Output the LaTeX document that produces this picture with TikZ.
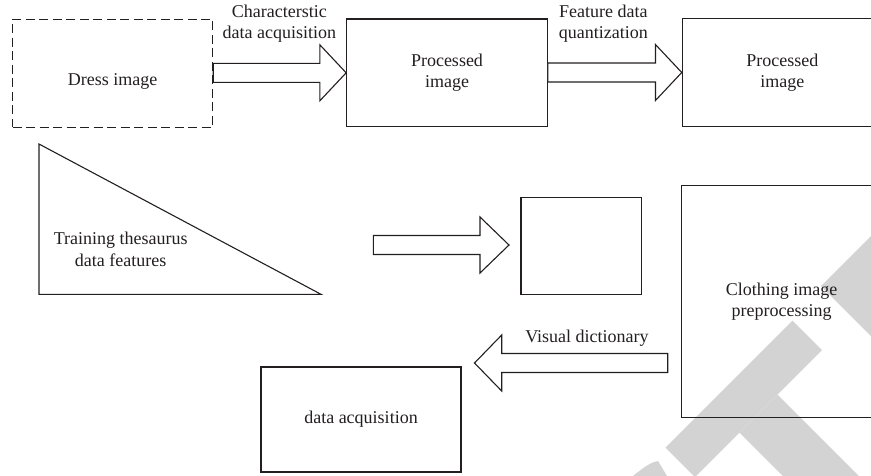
\documentclass[tikz,border=0pt]{standalone}
\usepackage{fontspec}
\setmainfont{Liberation Serif}
\usetikzlibrary{calc}
\definecolor{wm}{RGB}{211,211,211}
\definecolor{ink}{RGB}{35,31,32}
\newcommand\BlockArrow[3]{%
  \draw[blk] ($(#1 |- #2)+(0,-9.5)$) -- ($(#2)+(#3,-9.5)$) -- ($(#2)+(#3,-28)$) -- (#2)
    -- ($(#2)+(#3,28)$) -- ($(#2)+(#3,9.5)$) -- ($(#1 |- #2)+(0,9.5)$) -- cycle;}
\begin{document}
\begin{tikzpicture}[x=1pt,y=-1pt,
  txt/.style={font=\fontsize{18}{21.6}\selectfont,text=ink,align=center},
  box/.style={txt,draw=ink,line width=1.1pt,inner sep=0pt},
  lbl/.style={txt,inner sep=0pt},
  blk/.style={draw=ink,line width=1.1pt,fill=white,line join=miter},
  wmark/.style={fill=wm,draw=none}]
\useasboundingbox (0,0) rectangle (871,475);
\clip (0,0) rectangle (871,475);
% watermark
\fill[wmark] (792.5,320.5) -- (822,350) -- (695,477) -- (665.5,447.5) -- cycle;
\fill[wmark] (777.5,394.5) -- (877.5,494.5) -- (839.5,532.5) -- (739.5,432.5) -- cycle;
\fill[wmark] (821,286) -- (880,227) -- (950,290) -- (880,345) -- cycle;
\fill[wmark] (633,476) .. controls (645,466) and (652,462) .. (658,461) -- (667,476) -- cycle;
% boxes
\node[box,dash pattern=on 9pt off 4.5pt,minimum width=200pt,minimum height=108pt,
  label={[lbl,yshift=-8.5pt]center:Dress image}] (dress) at (112.7,73.2) {};
\node[box,minimum width=200.6pt,minimum height=107.7pt] (proc1) at (447,72.8) {Processed\\image};
\node[box,minimum width=200pt,minimum height=108.4pt] (proc2) at (782.3,72.5) {Processed\\image};
\node[box,minimum width=120.7pt,minimum height=97pt] (empty) at (581.35,245.8) {};
\node[box,minimum width=200pt,minimum height=231.6pt] (cloth) at (781.7,301.5) {Clothing image\\preprocessing};
\node[box,minimum width=200pt,minimum height=105pt] (acq) at (361,419.5) {data acquisition};
% triangle
\coordinate (t1) at (39,144);
\coordinate (t2) at (39,294.3);
\coordinate (t3) at (321,294.3);
\draw[blk] (t1) -- (t2) -- (t3) -- cycle;
\node[lbl] (train) at (120.7,249.5) {Training thesaurus\\data features};
% block arrows
\BlockArrow{dress.east}{proc1.west}{-26.3}
\BlockArrow{proc1.east}{proc2.west}{-26.3}
\coordinate (mtail) at (373.3,245);
\coordinate (mtip) at (509,245);
\BlockArrow{mtail}{mtip}{-29}
\coordinate (vtail) at (667.7,363);
\coordinate (vtip) at (474.5,363);
\BlockArrow{vtail}{vtip}{27.2}
% labels
\node[lbl] (l1) at (279.3,23.5) {Characterstic\\data acquisition};
\node[lbl] (l2) at (603.3,23.5) {Feature data\\quantization};
\node[lbl] (l3) at (587,338) {Visual dictionary};
\end{tikzpicture}
\end{document}
